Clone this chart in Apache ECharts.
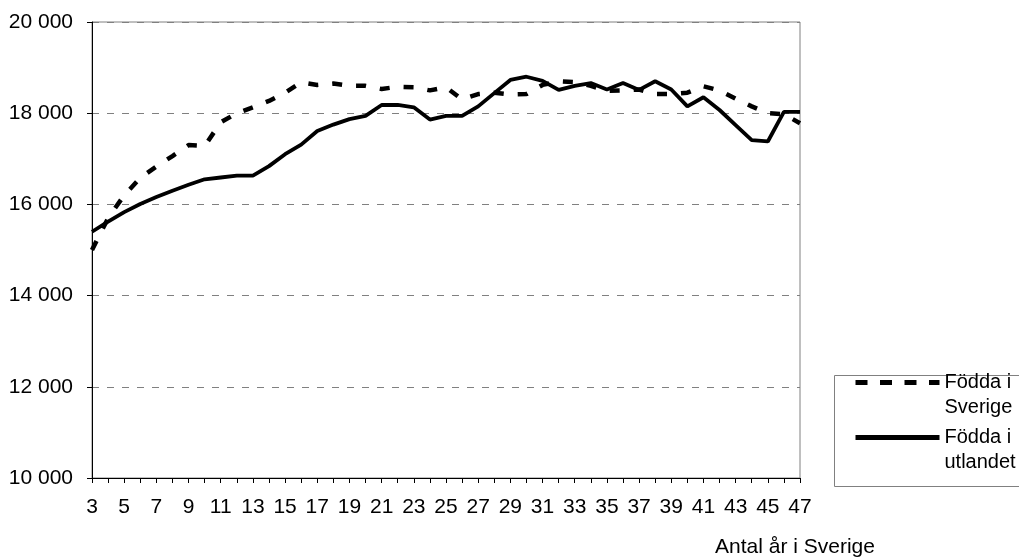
<!DOCTYPE html>
<html>
<head>
<meta charset="utf-8">
<script src="https://cdn.jsdelivr.net/npm/echarts@6/dist/echarts.min.js"></script>
<style>
  html, body { margin: 0; padding: 0; background: #fff; }
  #chart { width: 1019px; height: 559px; }
</style>
</head>
<body>
<div id="chart"></div>
<script>
// antal år i Sverige, 3..47
const years = []
for (let y = 3; y <= 47; y++) years.push(String(y))

// Födda i Sverige (streckad linje)
const foddaSverige = [
  15000, 15700, 16200, 16580, 16830, 17060, 17300, 17280, 17800, 18000,
  18130, 18270, 18450, 18680, 18620, 18650, 18600, 18600, 18530, 18580,
  18570, 18500, 18570, 18300, 18420, 18450, 18410, 18420, 18620, 18700,
  18680, 18600, 18490, 18500, 18520, 18420, 18420, 18450, 18590, 18500,
  18320, 18150, 18000, 17980, 17780
]

// Födda i utlandet (heldragen linje)
const foddaUtlandet = [
  15400, 15620, 15830, 16010, 16160, 16300, 16430, 16550, 16590, 16630,
  16630, 16840, 17100, 17310, 17610, 17750, 17870, 17940, 18180, 18180,
  18130, 17860, 17940, 17940, 18150, 18440, 18730, 18800, 18710, 18510,
  18600, 18660, 18520, 18660, 18510, 18700, 18520, 18150, 18350, 18070,
  17740, 17410, 17380, 18030, 18030
]

const seriesNames = ['Födda i Sverige', 'Födda i utlandet']

const font = 'Liberation Sans, Arial, sans-serif'

function legendItem (name, top, lineType) {
  return {
    data: [name],
    orient: 'vertical',
    left: 853,
    top: top,
    padding: 0,
    itemWidth: 84,
    itemHeight: 14,
    itemGap: 0,
    selectedMode: false,
    itemStyle: { opacity: 0 },
    lineStyle: { color: '#000', width: 5, type: lineType, cap: 'butt' },
    // tom första rad så att ikonen hamnar vid första textraden
    formatter: n => '\n' + n.replace('i ', 'i\n'),
    textStyle: { fontFamily: font, fontSize: 20, lineHeight: 25, color: '#000' }
  }
}

const myChart = echarts.init(document.getElementById('chart'))
const option = {
  animation: false,
  backgroundColor: '#fff',
  title: {
    text: 'Antal år i Sverige',
    left: 715,
    top: 537,
    padding: 0,
    textStyle: { fontFamily: font, fontSize: 21, fontWeight: 'normal', color: '#000' }
  },
  grid: {
    left: 92,
    top: 22,
    right: 219,
    bottom: 81,
    show: true,
    borderColor: '#808080',
    borderWidth: 1
  },
  legend: [
    legendItem(seriesNames[0], 345, [12, 12.5]),
    legendItem(seriesNames[1], 400, 'solid')
  ],
  graphic: [
    {
      type: 'rect',
      left: 832,
      top: 373,
      shape: { width: 200, height: 111 },
      style: { fill: 'none', stroke: '#808080', lineWidth: 1 },
      silent: true
    }
  ],
  xAxis: {
    type: 'category',
    boundaryGap: false,
    data: years,
    axisLine: { lineStyle: { color: '#000', width: 1 } },
    axisTick: { show: true, interval: 0, length: 5, lineStyle: { color: '#000' } },
    axisLabel: { interval: 1, margin: 19, fontFamily: font, fontSize: 21, color: '#000' },
    splitLine: { show: false }
  },
  yAxis: {
    type: 'value',
    min: 10000,
    max: 20000,
    interval: 2000,
    axisLine: { show: true, lineStyle: { color: '#000', width: 1 } },
    axisTick: { show: true, length: 5, lineStyle: { color: '#000' } },
    axisLabel: {
      margin: 19,
      fontFamily: font,
      fontSize: 21,
      color: '#000',
      formatter: v => String(v).replace(/\B(?=(\d{3})+(?!\d))/g, ' ')
    },
    splitLine: { lineStyle: { color: '#808080', width: 1, type: [7, 8] } }
  },
  series: [
    {
      name: seriesNames[0],
      type: 'line',
      data: foddaSverige,
      symbol: 'none',
      showSymbol: false,
      z: 3,
      itemStyle: { color: '#000' },
      lineStyle: { color: '#000', width: 4.5, type: [10, 14], cap: 'butt' }
    },
    {
      name: seriesNames[1],
      type: 'line',
      data: foddaUtlandet,
      symbol: 'none',
      showSymbol: false,
      z: 4,
      itemStyle: { color: '#000' },
      lineStyle: { color: '#000', width: 3.8 }
    }
  ]
}
option && myChart.setOption(option)
</script>
</body>
</html>
